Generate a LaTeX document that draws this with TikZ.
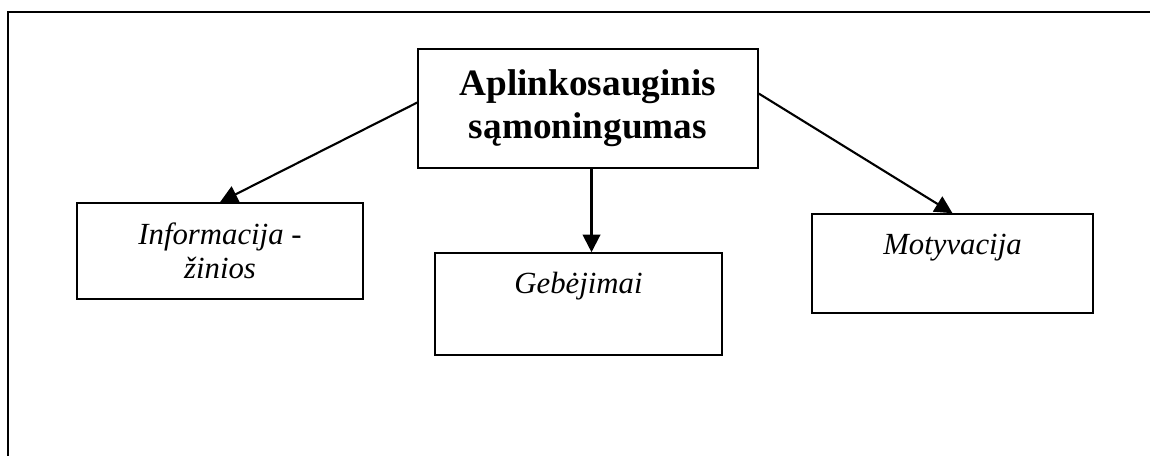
\documentclass[tikz,border=0pt]{standalone}
\usepackage{fontspec}
\setmainfont{Liberation Serif}
\usetikzlibrary{arrows.meta}
\begin{document}
\begin{tikzpicture}[x=0.02cm, y=-0.02cm,
    box/.style={draw, line width=0.9pt, inner sep=0pt, align=center},
    topbox/.style={box, font=\fontsize{17.5}{19.5}\selectfont\itshape},
    arr/.style={-{Triangle[length=10pt, width=10pt]}, line width=1.2pt}]
      % Fix the page size
      \useasboundingbox (0, 0) rectangle (1150, 456);

      % Draw the open frame
      \draw[line width=1.1pt] (8, 456) -- (8, 12) -- (1150, 12);

      % Draw the main box
      \node[box, minimum width=6.8cm, minimum height=2.38cm,
      font=\fontsize{21.2}{24.5}\selectfont\bfseries] (main) at (588, 108.5)
      {Aplinkosauginis\\sąmoningumas};

      % Draw the three boxes below
      \node[topbox, minimum width=5.72cm, minimum height=1.92cm] (info)
      at (220, 251) {Informacija -\\žinios};
      \node[topbox, anchor=base, text width=5.74cm, text height=0.8cm,
      text depth=1.24cm] (gebe) at (578.5, 293) {Gebėjimai};
      \node[topbox, anchor=base, text width=5.62cm, text height=0.82cm,
      text depth=1.16cm] (motyv) at (952.5, 255) {Motyvacija};

      % Add arrows from the main box
      \draw[arr] (main.178) -- (info.north);
      \draw[arr] ([xshift=2pt]main.south) -- ([xshift=2pt]main.south |- gebe.north);
      \draw[arr] (main.5) -- (motyv.north);
    \end{tikzpicture}
\end{document}
